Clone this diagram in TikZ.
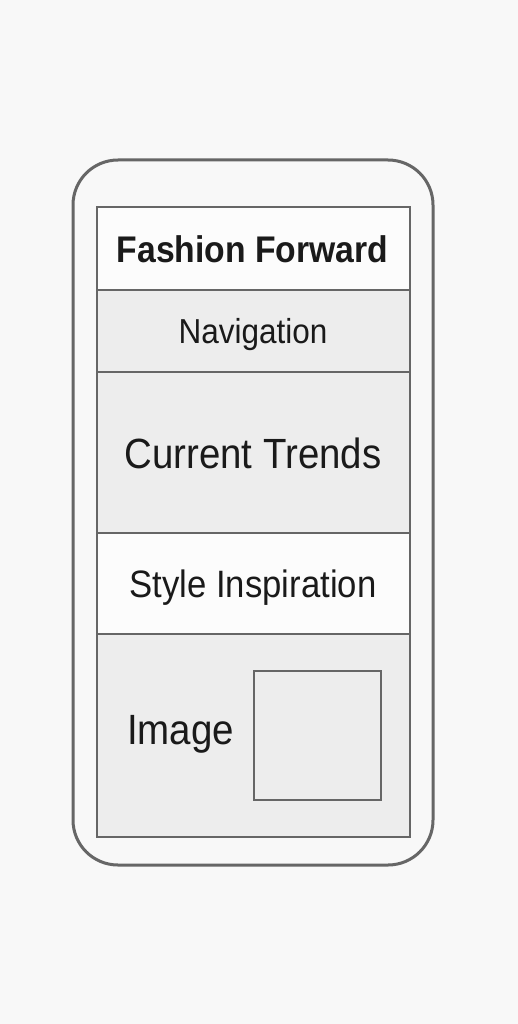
\documentclass[tikz,border=0pt]{standalone}
\usepackage{graphicx}
\usepackage{fontspec}
\setmainfont{Liberation Sans}
\definecolor{bgc}{HTML}{F8F8F8}
\definecolor{linec}{HTML}{666666}
\definecolor{grayfill}{HTML}{EDEDED}
\definecolor{whitefill}{HTML}{FCFCFC}
\definecolor{txt}{HTML}{1A1A1A}
\tikzset{
  section/.style={draw=linec, line width=2.5pt, minimum width=313pt, inner sep=0pt, text=txt},
  grayband/.style={section, fill=grayfill},
  whiteband/.style={section, fill=whitefill},
  label/.style={text=txt, inner sep=0pt, anchor=base}
}
\newcommand{\tall}[1]{\scalebox{1}[1.1]{#1}}
\begin{document}
\begin{tikzpicture}[x=1pt,y=-1pt]
\fill[bgc] (0,0) rectangle (518,1024);
\useasboundingbox (0,0) rectangle (518,1024);
\node[draw=linec, line width=3pt, rounded corners=45pt, fill=bgc, minimum width=360pt, minimum height=705pt, inner sep=0pt] (phone) at (253,512.5) {};
\node[whiteband, minimum height=83pt] (header) at (253.5,248.5) {};
\node[grayband, minimum height=82pt] (nav) at (253.5,331) {};
\node[grayband, minimum height=161pt] (trends) at (253.5,452.5) {};
\node[whiteband, minimum height=101pt] (style) at (253.5,583.5) {};
\node[grayband, minimum height=203pt] (image) at (253.5,735.5) {};
\node[draw=linec, line width=2.5pt, fill=grayfill, minimum width=127pt, minimum height=129pt, inner sep=0pt] (imgbox) at (317.5,735.5) {};
\node[label, font=\fontsize{33.7}{36}\selectfont\bfseries] (t1) at (252.5,262) {\tall{Fashion Forward}};
\node[label, font=\fontsize{31.5}{34}\selectfont] (t2) at (253,343) {\tall{Navigation}};
\node[label, font=\fontsize{38.4}{42}\selectfont] (t3) at (253,468) {\tall{Current Trends}};
\node[label, font=\fontsize{34.7}{38}\selectfont] (t4) at (253,597) {\tall{Style Inspiration}};
\node[label, font=\fontsize{38.5}{42}\selectfont] (t5) at (180.5,744) {\tall{Image}};
\end{tikzpicture}
\end{document}
